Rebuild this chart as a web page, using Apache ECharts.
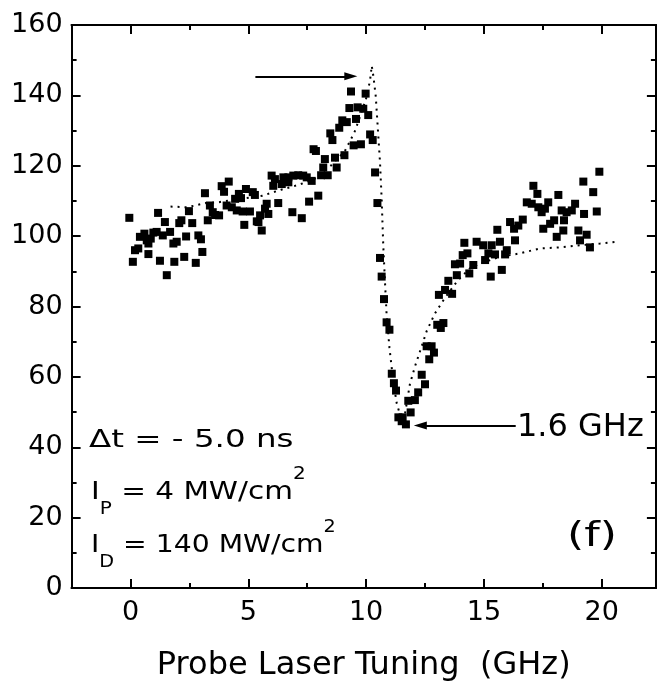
<!DOCTYPE html>
<html>
<head>
<meta charset="utf-8">
<script src="https://cdn.jsdelivr.net/npm/echarts@6/dist/echarts.min.js"></script>
<style>
  html, body { margin: 0; padding: 0; background: #fff; }
  #chart { width: 657px; height: 687px; }
</style>
</head>
<body>
<div id="chart"></div>
<script>
// measured points (GHz, signal)
const pointX = [
  -0.05, 0.1, 0.19, 0.33, 0.4, 0.59, 0.69, 0.76, 0.76, 0.86, 0.97, 1.11, 1.17, 1.25, 1.37, 1.46, 1.54, 1.68, 1.82, 1.86,
  1.96, 2.07, 2.16, 2.28, 2.36, 2.48, 2.62, 2.77, 2.88, 2.99, 3.05, 3.16, 3.28, 3.37, 3.49, 3.59, 3.76, 3.87, 3.97, 4.08,
  4.17, 4.3, 4.44, 4.51, 4.6, 4.69, 4.76, 4.83, 4.9, 5.07, 5.19, 5.28, 5.36, 5.43, 5.5, 5.57, 5.71, 5.78, 5.85, 5.99,
  6.06, 6.13, 6.27, 6.42, 6.49, 6.7, 6.7, 6.87, 6.91, 7.12, 7.27, 7.33, 7.48, 7.58, 7.69, 7.77, 7.87, 7.97, 8.09, 8.18,
  8.25, 8.37, 8.48, 8.57, 8.68, 8.75, 8.86, 8.99, 9.08, 9.18, 9.29, 9.36, 9.47, 9.57, 9.64, 9.78, 9.88, 9.98, 10.09, 10.17,
  10.28, 10.38, 10.48, 10.59, 10.66, 10.76, 10.87, 10.99, 11.09, 11.18, 11.27, 11.37, 11.51, 11.55, 11.69, 11.79, 11.89, 12.07, 12.21, 12.36,
  12.5, 12.57, 12.68, 12.78, 12.88, 13.02, 13.17, 13.28, 13.09, 13.35, 13.49, 13.65, 13.77, 13.85, 13.99, 14.1, 14.17, 14.3, 14.38, 14.55,
  14.69, 14.97, 15.05, 15.19, 15.29, 15.33, 15.47, 15.57, 15.68, 15.76, 15.9, 15.97, 16.11, 16.28, 16.32, 16.46, 16.65, 16.82, 17.03, 17.1,
  17.27, 17.31, 17.45, 17.52, 17.59, 17.73, 17.81, 17.98, 18.09, 18.16, 18.3, 18.37, 18.4, 18.51, 18.73, 18.87, 19.01, 19.08, 19.22, 19.25,
  19.36, 19.5, 19.64, 19.79, 19.9
]
const pointY = [
  105.2, 92.7, 96, 96.5, 99.8, 100.7, 98.8, 97.9, 94.9, 99.3, 101, 101.2, 106.6, 93, 100.2, 104, 88.9, 101.2, 97.9, 92.7,
  98.4, 103.7, 104.5, 94.1, 99.9, 107.1, 103.7, 92.4, 100.2, 99.1, 95.5, 112.2, 104.5, 108.7, 106.8, 106, 105.9, 114.2, 112.6, 108.7,
  115.5, 108.2, 110.6, 107.3, 112, 110.8, 107, 103.2, 113.4, 107, 112.5, 111.7, 104.2, 104, 105.9, 101.6, 107.8, 109.2, 106.3, 117.2,
  114.3, 116.2, 109.4, 114.8, 116.7, 116.7, 115.3, 106.8, 117.2, 117.3, 105.1, 117.2, 116.7, 109.8, 115.7, 124.7, 124.2, 111.5, 117.3, 119.5,
  121.9, 117.3, 129.2, 127.3, 122.3, 119.5, 130.8, 132.9, 123, 132.4, 136.4, 141.1, 125.8, 133.3, 136.6, 126.1, 136.2, 140.5, 134.4, 128.9,
  127.3, 118.1, 109.4, 93.8, 88.5, 82.1, 75.5, 73.4, 60.9, 58.2, 56.1, 48.5, 47.4, 48.5, 46.5, 53.2, 49.9, 53.4, 55.6, 60.6,
  57.9, 68.7, 65, 68.7, 66.9, 74.8, 73.9, 75.3, 83.3, 84.7, 87.3, 83.6, 92, 88.9, 92.2, 94.6, 98.1, 95.1, 89.4, 91.8,
  98.4, 97.4, 93.2, 95.1, 88.5, 97.4, 94.8, 101.8, 98.4, 90.4, 94.8, 96, 104, 102.1, 98.8, 103, 104.7, 109.6, 109.2, 114.3,
  112, 108.2, 106.8, 102.1, 107.8, 109.6, 103.5, 104.5, 99.8, 111.7, 107.3, 101.6, 104.5, 106.8, 107.3, 109.2, 101.6, 98.8, 115.5, 106.3,
  100.4, 96.8, 112.5, 107, 118.3
]
// fitted curve (dotted)
const fitX = [
  1.7, 2.4, 3.2, 3.7, 4.9, 5.6, 6.4, 7.1, 7.8, 8.5, 9.1, 9.5, 9.75, 10.03, 10.17, 10.24, 10.31, 10.41, 10.5, 10.59,
  10.66, 10.73, 10.8, 10.87, 10.99, 11.15, 11.3, 11.45, 11.55, 11.65, 11.86, 12.1, 12.3, 12.57, 12.92, 13.35, 13.9, 14.4, 14.83, 15.68,
  16.53, 17.38, 18.23, 19.08, 19.93, 20.64
]
const fitY = [
  108.4, 108.2, 109.4, 109.6, 110.8, 111.5, 113.2, 114.5, 116.2, 120, 124.2, 129.4, 134.1, 139.7, 144.4, 148.4, 145.4, 139.7, 130.3, 121,
  110.6, 97, 87.1, 77.7, 68.3, 58.9, 52.5, 49, 47.5, 49.5, 58, 63.5, 67.5, 73, 78, 82.5, 87.5, 90.8, 92.2, 94.1,
  95.1, 96.5, 96.8, 97.4, 97.9, 98.4
]
// arrows: [from, to]
const arrowPeak = [[5.3, 145.4], [9.35, 145.4]]
const arrowDip = [[16.35, 46.2], [12.3, 46.2]]

const xMajorTicks = [0, 5, 10, 15, 20]
const xMinorTicks = [2.5, 7.5, 12.5, 17.5]
const yTicks = [0, 20, 40, 60, 80, 100, 120, 140, 160]

const FONT = 'DejaVu Sans'
const X_MIN = -2.5
const X_MAX = 22.3

function xAxisOf(position, ticks, len, showLabel, name) {
  return {
    type: 'value',
    position: position,
    min: X_MIN,
    max: X_MAX,
    name: name || '',
    nameLocation: 'middle',
    nameGap: 62,
    nameTextStyle: { fontFamily: FONT, fontSize: 32, color: '#000' },
    axisLine: { show: true, onZero: false, lineStyle: { color: '#000', width: 2 } },
    axisTick: { show: true, inside: true, length: len, customValues: ticks, lineStyle: { color: '#000', width: 2 } },
    axisLabel: {
      show: showLabel,
      customValues: ticks,
      margin: 11,
      fontFamily: FONT,
      fontSize: 27,
      color: '#000'
    },
    splitLine: { show: false }
  }
}

function yAxisOf(position, showLabel) {
  return {
    type: 'value',
    position: position,
    min: 0,
    max: 160,
    interval: 20,
    axisLine: { show: true, onZero: false, lineStyle: { color: '#000', width: 2 } },
    axisTick: { show: true, inside: true, length: 9, lineStyle: { color: '#000', width: 2 } },
    minorTick: { show: true, splitNumber: 2, length: 5, lineStyle: { color: '#000', width: 2 } },
    axisLabel: {
      show: showLabel,
      customValues: yTicks,
      margin: 9,
      fontFamily: FONT,
      fontSize: 27,
      color: '#000'
    },
    splitLine: { show: false },
    minorSplitLine: { show: false }
  }
}

const chart = echarts.init(document.getElementById('chart'), null, { renderer: 'canvas' })

const subStyle = { fontFamily: FONT, fontSize: 17, lineHeight: 16, verticalAlign: 'bottom', fill: '#000' }
const supStyle = { fontFamily: FONT, fontSize: 17, lineHeight: 34, verticalAlign: 'top', fill: '#000' }

function noteText(text, x, y, size, scaleX, extra) {
  return {
    type: 'text',
    x: x,
    y: y,
    scaleX: scaleX,
    originX: 0,
    style: Object.assign({
      text: text,
      fontFamily: FONT,
      fontSize: size,
      fill: '#000',
      verticalAlign: 'middle'
    }, extra || {})
  }
}

const richLine = { lineHeight: 52, rich: { s: subStyle, u: supStyle } }

chart.setOption({
  animation: false,
  backgroundColor: '#fff',
  grid: { left: 71.6, top: 25, width: 584.3, height: 567 },
  xAxis: [
    xAxisOf('bottom', xMajorTicks, 9, true, 'Probe Laser Tuning  (GHz)'),
    xAxisOf('bottom', xMinorTicks, 5, false),
    xAxisOf('top', xMajorTicks, 9, false),
    xAxisOf('top', xMinorTicks, 5, false)
  ],
  yAxis: [
    yAxisOf('left', true),
    yAxisOf('right', false)
  ],
  series: [{
    name: 'data',
    type: 'scatter',
    xAxisIndex: 0,
    yAxisIndex: 0,
    symbol: 'rect',
    symbolSize: 8,
    itemStyle: { color: '#000', opacity: 1 },
    data: pointX.map((x, i) => [x, pointY[i]]),
    z: 3
  }, {
    name: 'fit',
    type: 'line',
    xAxisIndex: 0,
    yAxisIndex: 0,
    showSymbol: false,
    smooth: false,
    lineStyle: { color: '#000', width: 2, type: [2, 5] },
    data: fitX.map((x, i) => [x, fitY[i]]),
    markLine: {
      silent: true,
      symbol: ['none', 'triangle'],
      symbolSize: [8, 13],
      label: { show: false },
      lineStyle: { color: '#000', width: 2, type: 'solid' },
      data: [
        [{ coord: arrowPeak[0] }, { coord: arrowPeak[1] }],
        [{ coord: arrowDip[0] }, { coord: arrowDip[1] }]
      ]
    },
    z: 2
  }],
  graphic: [
    noteText('Δt = - 5.0 ns', 89, 440, 25, 1.3),
    noteText('I{s|P} = 4 MW/cm{u|2}', 91, 492, 25, 1.18, richLine),
    noteText('I{s|D} = 140 MW/cm{u|2}', 91, 545, 25, 1.13, richLine),
    noteText('1.6 GHz', 517, 428, 32, 1),
    noteText('(f)', 567, 537, 34, 1.3)
  ]
})
</script>
</body>
</html>
